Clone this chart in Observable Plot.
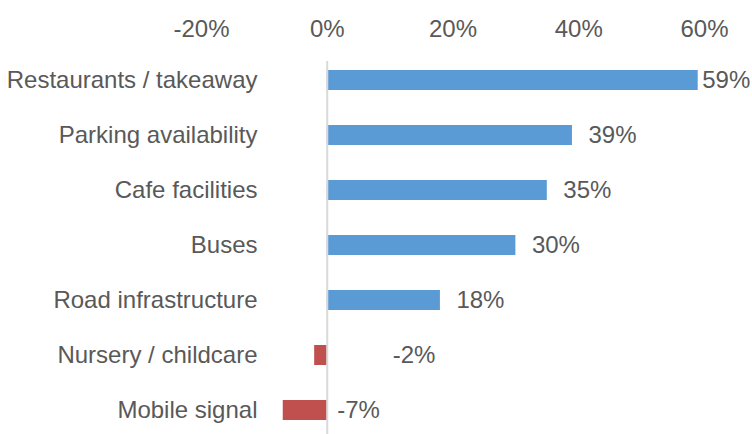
<!DOCTYPE html>
<html>
<head>
<meta charset="utf-8">
<script src="https://cdn.jsdelivr.net/npm/d3@7"></script>
<script src="https://cdn.jsdelivr.net/npm/@observablehq/plot@0.6"></script>
<style>
  html, body { margin: 0; padding: 0; background: #fff; }
  #chart svg { display: block; }
</style>
</head>
<body>
<div id="chart"></div>
<script>
const categories = ["Restaurants / takeaway", "Parking availability", "Cafe facilities", "Buses", "Road infrastructure", "Nursery / childcare", "Mobile signal"];
const values = [0.59, 0.39, 0.35, 0.30, 0.18, -0.02, -0.07];
const xTicks = [-0.2, 0, 0.2, 0.4, 0.6];

const data = categories.map((c, i) => ({category: c, value: values[i]}));
const maxVal = d3.max(values);
const pct = v => Math.round(v * 100) + "%";
const textColor = "#595959";
const font = "Liberation Sans, Arial, sans-serif";
const fs = 24;

const chart = Plot.plot({
  width: 752,
  height: 434,
  marginLeft: 201,
  marginRight: 48,
  marginTop: 52,
  marginBottom: 0,
  style: {fontFamily: font, fontSize: fs + "px", color: textColor, background: "#fff"},
  x: {domain: [-0.2, 0.6]},
  y: {domain: categories, range: [35, 455], padding: 35 / 55, axis: null},
  marks: [
    Plot.axisX({anchor: "top", ticks: xTicks, tickFormat: pct, tickSize: 0, tickPadding: 16, label: null, fill: textColor, fontSize: fs}),
    Plot.barX(data, {x: "value", y: "category", fill: d => d.value >= 0 ? "#5B9BD5" : "#C0504D"}),
    Plot.ruleX([0], {stroke: "#d9d9d9", strokeWidth: 2, insetTop: 9}),
    Plot.text(data, {y: "category", text: "category", frameAnchor: "left", textAnchor: "end", dx: 56, fill: textColor, fontSize: fs}),
    Plot.text(data.filter(d => d.value >= 0 && d.value < maxVal), {x: "value", y: "category", text: d => pct(d.value), textAnchor: "start", dx: 16, fill: textColor, fontSize: fs}),
    Plot.text(data.filter(d => d.value === maxVal), {x: "value", y: "category", text: d => pct(d.value), textAnchor: "start", dx: 4, fill: textColor, fontSize: fs}),
    Plot.text(data.filter(d => d.category === "Nursery / childcare"), {x: "value", y: "category", text: d => pct(d.value), textAnchor: "start", dx: 78, fill: textColor, fontSize: fs}),
    Plot.text(data.filter(d => d.category === "Mobile signal"), {x: "value", y: "category", text: d => pct(d.value), textAnchor: "start", dx: 54, fill: textColor, fontSize: fs})
  ]
});
document.getElementById("chart").appendChild(chart);
</script>
</body>
</html>
